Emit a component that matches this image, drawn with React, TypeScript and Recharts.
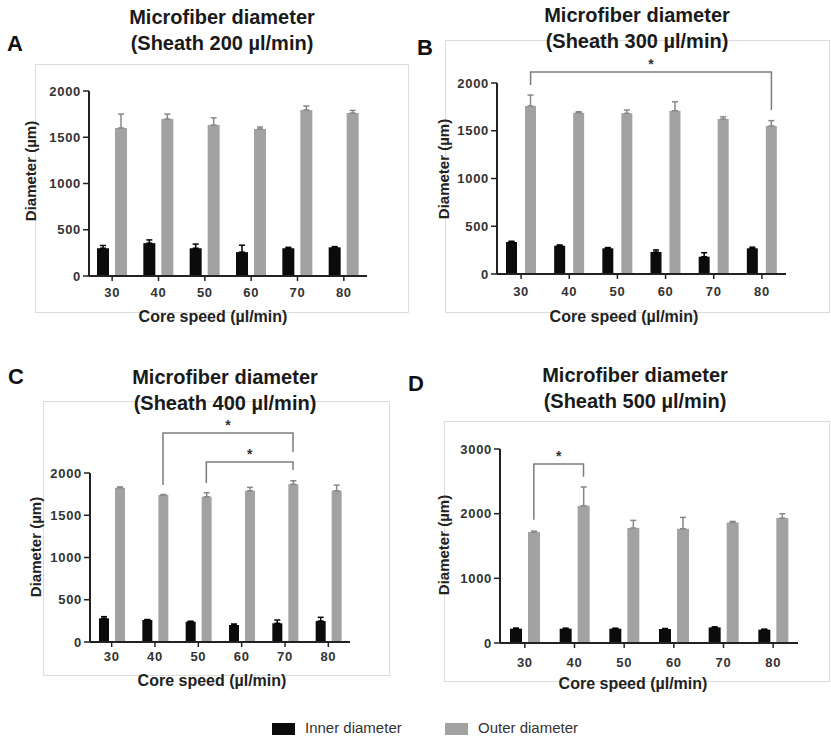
import { BarChart, Bar, XAxis, YAxis, ErrorBar, ReferenceLine } from 'recharts';

const speeds = ['30', '40', '50', '60', '70', '80'];

// Sheath 200 µl/min
const innerA = [300, 355, 300, 258, 300, 310];
const innerErrA = [30, 35, 45, 75, 10, 8];
const outerA = [1600, 1697, 1632, 1590, 1795, 1762];
const outerErrA = [150, 53, 78, 20, 43, 28];

// Sheath 300 µl/min
const innerB = [335, 296, 269, 230, 181, 269];
const innerErrB = [8, 8, 8, 22, 42, 12];
const outerB = [1759, 1689, 1682, 1710, 1623, 1550];
const outerErrB = [115, 10, 35, 94, 24, 56];

// Sheath 400 µl/min
const innerC = [280, 260, 240, 201, 221, 248];
const innerErrC = [20, 6, 6, 12, 39, 44];
const outerC = [1825, 1739, 1719, 1790, 1866, 1790];
const outerErrC = [10, 6, 47, 40, 42, 67];

// Sheath 500 µl/min
const innerD = [221, 221, 221, 216, 241, 206];
const innerErrD = [10, 8, 8, 8, 8, 8];
const outerD = [1716, 2123, 1778, 1767, 1865, 1932];
const outerErrD = [14, 289, 118, 175, 15, 67];

// significance brackets (between outer bars), in µm
const bracketsA: Bracket[] = [];
const bracketsB: Bracket[] = [{ from: '30', to: '80', y: 2115, yFrom: 1979, yTo: 1717 }];
const bracketsC: Bracket[] = [
  { from: '40', to: '70', y: 2472, yFrom: 1857, yTo: 2248 },
  { from: '50', to: '70', y: 2129, yFrom: 1881, yTo: 2035 },
];
const bracketsD: Bracket[] = [{ from: '30', to: '40', y: 2767, yFrom: 1906, yTo: 2571 }];

const ticks2000 = [0, 500, 1000, 1500, 2000];
const ticks3000 = [0, 1000, 2000, 3000];

type Bracket = { from: string; to: string; y: number; yFrom: number; yTo: number };

const buildRows = (inner: number[], innerErr: number[], outer: number[], outerErr: number[]) =>
  speeds.map((speed, i) => ({
    speed,
    inner: inner[i],
    innerErr: [0, innerErr[i]],
    outer: outer[i],
    outerErr: [0, outerErr[i]],
  }));

const FONT = '"Liberation Sans", Arial, sans-serif';
const INNER = '#0b0b0b';
const OUTER = '#a2a2a2';
const BRACKET = '#7c7c7c';

const panels = [
  {
    letter: 'A', sheath: '200',
    rows: buildRows(innerA, innerErrA, outerA, outerErrA), brackets: bracketsA,
    frame: { x: 35, y: 64, w: 374, h: 249 },
    plot: { l: 89, r: 367, t: 91, b: 276 },
    barSize: 12, barGap: 6, domain: [0, 2000], ticks: ticks2000, tickMargin: 7,
    title: { cx: 222, top: 4 }, letterPos: { x: 7, y: 33 },
    yTitle: { cx: 30, cy: 171 }, xTitle: { cx: 213, top: 309 },
  },
  {
    letter: 'B', sheath: '300',
    rows: buildRows(innerB, innerErrB, outerB, outerErrB), brackets: bracketsB,
    frame: { x: 445, y: 40, w: 385, h: 273 },
    plot: { l: 497, r: 786, t: 83, b: 274 },
    barSize: 11, barGap: 8, domain: [0, 2000], ticks: ticks2000, tickMargin: 8,
    title: { cx: 637, top: 2 }, letterPos: { x: 417, y: 37 },
    yTitle: { cx: 443, cy: 169 }, xTitle: { cx: 624, top: 309 },
  },
  {
    letter: 'C', sheath: '400',
    rows: buildRows(innerC, innerErrC, outerC, outerErrC), brackets: bracketsC,
    frame: { x: 43, y: 401, w: 347, h: 275 },
    plot: { l: 90, r: 350, t: 473, b: 642 },
    barSize: 10, barGap: 6, domain: [0, 2000], ticks: ticks2000, tickMargin: 5,
    title: { cx: 225, top: 364 }, letterPos: { x: 8, y: 366 },
    yTitle: { cx: 35, cy: 547 }, xTitle: { cx: 212, top: 673 },
  },
  {
    letter: 'D', sheath: '500',
    rows: buildRows(innerD, innerErrD, outerD, outerErrD), brackets: bracketsD,
    frame: { x: 444, y: 421, w: 386, h: 261 },
    plot: { l: 500, r: 798, t: 449, b: 643 },
    barSize: 12, barGap: 6, domain: [0, 3000], ticks: ticks3000, tickMargin: 10,
    title: { cx: 635, top: 362 }, letterPos: { x: 408, y: 373 },
    yTitle: { cx: 443, cy: 545 }, xTitle: { cx: 633, top: 676 },
  },
];

const TOP_ROOM = 75;
const LEFT_ROOM = 60;

function bracketLines(b: Bracket, off: number, key: string) {
  const seg = (x1: number, y1: number, x2: number, y2: number) => (
    <line x1={x1} y1={y1} x2={x2} y2={y2} stroke={BRACKET} strokeWidth={1.5} />
  );
  return [
    <ReferenceLine
      key={key + 'h'}
      segment={[{ x: b.from, y: b.y }, { x: b.to, y: b.y }]}
      ifOverflow="visible"
      shape={(p: any) => (
        <g>
          {seg(p.x1 + off - 0.75, p.y1, p.x2 + off + 0.75, p.y2)}
          <text x={(p.x1 + p.x2) / 2 + off} y={p.y1 - 3} textAnchor="middle" fontSize={14} fontWeight={700} fill="#333">
            *
          </text>
        </g>
      )}
    />,
    <ReferenceLine
      key={key + 'l'}
      segment={[{ x: b.from, y: b.y }, { x: b.from, y: b.yFrom }]}
      ifOverflow="visible"
      shape={(p: any) => seg(p.x1 + off, p.y1, p.x2 + off, p.y2)}
    />,
    <ReferenceLine
      key={key + 'r'}
      segment={[{ x: b.to, y: b.y }, { x: b.to, y: b.yTo }]}
      ifOverflow="visible"
      shape={(p: any) => seg(p.x1 + off, p.y1, p.x2 + off, p.y2)}
    />,
  ];
}

function Panel({ cfg }: { cfg: (typeof panels)[number] }) {
  const { plot, barSize, barGap } = cfg;
  const width = plot.r - plot.l + LEFT_ROOM + 20;
  const height = plot.b - plot.t + TOP_ROOM + 40;
  const off = (barGap + barSize) / 2;
  const tickStyle = { fill: '#333', fontSize: 13, fontWeight: 700, letterSpacing: 0.7 };

  return (
    <>
      <div
        style={{
          position: 'absolute', left: cfg.frame.x, top: cfg.frame.y, width: cfg.frame.w, height: cfg.frame.h,
          border: '1px solid #dcdcdc', boxSizing: 'border-box',
        }}
      />
      <div style={{ position: 'absolute', left: plot.l - LEFT_ROOM, top: plot.t - TOP_ROOM }}>
        <BarChart
          width={width}
          height={height}
          data={cfg.rows}
          margin={{ top: TOP_ROOM, right: 20, bottom: 10, left: 0 }}
          barGap={barGap}
          barSize={barSize}
        >
          <XAxis
            dataKey="speed"
            height={30}
            interval={0}
            tickSize={5}
            tickMargin={cfg.tickMargin}
            axisLine={{ stroke: '#222', strokeWidth: 2 }}
            tickLine={{ stroke: '#222', strokeWidth: 1.5 }}
            tick={tickStyle}
          />
          <YAxis
            width={LEFT_ROOM}
            domain={cfg.domain}
            ticks={cfg.ticks}
            interval={0}
            tickSize={6}
            tickMargin={2}
            axisLine={{ stroke: '#222', strokeWidth: 2 }}
            tickLine={{ stroke: '#222', strokeWidth: 1.5 }}
            tick={tickStyle}
          />
          <Bar dataKey="inner" fill={INNER} isAnimationActive={false}>
            <ErrorBar dataKey="innerErr" direction="y" width={3} stroke="#000" strokeWidth={1.5} />
          </Bar>
          <Bar dataKey="outer" fill={OUTER} isAnimationActive={false}>
            <ErrorBar dataKey="outerErr" direction="y" width={3} stroke="#888" strokeWidth={1.5} />
          </Bar>
          {cfg.brackets.flatMap((b, i) => bracketLines(b, off, cfg.letter + i))}
        </BarChart>
      </div>
      <div
        style={{
          position: 'absolute', left: cfg.title.cx - 160, top: cfg.title.top, width: 320,
          textAlign: 'center', fontSize: 20, fontWeight: 700, lineHeight: '26px', color: '#1a1a1a',
        }}
      >
        <div>Microfiber diameter</div>
        <div>(Sheath {cfg.sheath} µl/min)</div>
      </div>
      <div
        style={{
          position: 'absolute', left: cfg.letterPos.x, top: cfg.letterPos.y,
          fontSize: 22, fontWeight: 700, lineHeight: '22px', color: '#111',
        }}
      >
        {cfg.letter}
      </div>
      <div
        style={{
          position: 'absolute', left: cfg.yTitle.cx, top: cfg.yTitle.cy, transform: 'translate(-50%, -50%) rotate(-90deg)',
          fontSize: 15, fontWeight: 700, lineHeight: '15px', whiteSpace: 'nowrap', color: '#222',
        }}
      >
        Diameter (µm)
      </div>
      <div
        style={{
          position: 'absolute', left: cfg.xTitle.cx - 120, top: cfg.xTitle.top, width: 240, textAlign: 'center',
          fontSize: 16, fontWeight: 700, lineHeight: '16px', whiteSpace: 'nowrap', color: '#222',
        }}
      >
        Core speed (µl/min)
      </div>
    </>
  );
}

const legendItems = [
  { name: 'Inner diameter', color: INNER, x: 272, textX: 305 },
  { name: 'Outer diameter', color: OUTER, x: 445, textX: 478 },
];

export default function App() {
  return (
    <div
      style={{
        position: 'absolute', left: 0, top: 0, width: 831, height: 740, overflow: 'hidden',
        background: '#fff', fontFamily: FONT,
      }}
    >
      {panels.map((p) => (
        <Panel key={p.letter} cfg={p} />
      ))}
      {legendItems.map((l) => (
        <div key={l.name}>
          <div style={{ position: 'absolute', left: l.x, top: 723, width: 23, height: 12, background: l.color }} />
          <div
            style={{
              position: 'absolute', left: l.textX, top: 720, fontSize: 15, lineHeight: '15px', color: '#333',
              whiteSpace: 'nowrap',
            }}
          >
            {l.name}
          </div>
        </div>
      ))}
    </div>
  );
}
